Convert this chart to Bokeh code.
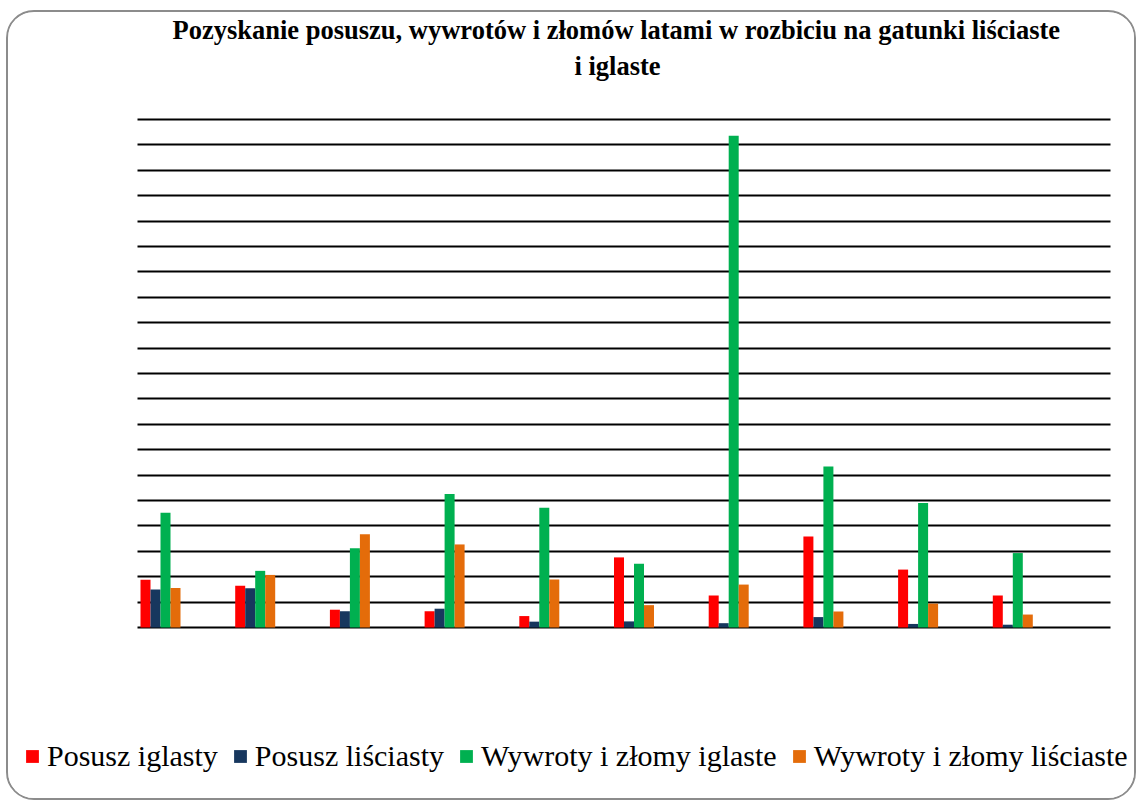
from bokeh.plotting import figure
from bokeh.models import Range1d, FixedTicker, Legend, LegendItem, Title, ColumnDataSource
from bokeh.transform import dodge
from bokeh.embed import file_html
from bokeh.resources import INLINE

# ---- data (values in gridline units) ----
lata = ["1", "2", "3", "4", "5", "6", "7", "8", "9", "10"]
posusz_iglasty = [1.88, 1.64, 0.70, 0.64, 0.45, 2.76, 1.26, 3.58, 2.28, 1.26]
posusz_lisciasty = [1.50, 1.55, 0.64, 0.74, 0.23, 0.24, 0.17, 0.41, 0.14, 0.11]
wywroty_iglaste = [4.52, 2.23, 3.12, 5.26, 4.71, 2.51, 19.36, 6.34, 4.90, 2.93]
wywroty_lisciaste = [1.56, 2.07, 3.67, 3.27, 1.89, 0.88, 1.69, 0.63, 0.94, 0.51]
series_names = ["Posusz iglasty", "Posusz liściasty", "Wywroty i złomy iglaste",
                "Wywroty i złomy liściaste"]
grid_ticks = list(range(0, 21))

colors = ["#FF0000", "#17375E", "#00B050", "#E46C0A"]
SERIF = "Liberation Serif"

src = ColumnDataSource(dict(
    x=list(range(len(lata))),
    s0=posusz_iglasty, s1=posusz_lisciasty, s2=wywroty_iglaste, s3=wywroty_lisciaste,
))

# layout geometry (page pixels)
ML, MT, BORDER = 6, 10, 2
X0, Y0 = ML + BORDER, MT + BORDER
W, H = 1130, 790
spacing_px = 94.7
group0_px = 160
grid_left_px, grid_right_px = 137, 1110
frame_top, mb_bottom = 85, 5
frame_bottom = Y0 + H - mb_bottom
base_y = 627
unit_px = 25.4

def px2x(px):
    return (px - group0_px) / spacing_px

p = figure(width=W, height=H, output_backend="svg", toolbar_location=None,
           x_range=Range1d(px2x(X0), px2x(X0 + W)),
           y_range=Range1d(-(frame_bottom - base_y) / unit_px, (base_y - frame_top) / unit_px),
           min_border_left=0, min_border_right=0,
           min_border_top=frame_top - Y0, min_border_bottom=mb_bottom)
p.margin = (MT, 0, 0, ML)

p.title.text = "Pozyskanie posuszu, wywrotów i złomów latami w rozbiciu na gatunki liściaste"
p.title.text_font = SERIF
p.title.text_font_size = "26.5px"
p.title.text_font_style = "bold"
p.title.align = "left"
p.title.offset = 164
p.title.standoff = 0
p.title.text_color = "#000000"
p.add_layout(Title(text="i iglaste", text_font=SERIF, text_font_size="26.5px",
                   text_font_style="bold", align="left", offset=566, standoff=9,
                   text_color="#000000"), "above")

p.xaxis.visible = False
p.yaxis.visible = False
p.xgrid.visible = False
p.ygrid.ticker = FixedTicker(ticks=grid_ticks)
p.ygrid.cross_bounds = (px2x(grid_left_px), px2x(grid_right_px))
p.ygrid.grid_line_color = "#000000"
p.ygrid.grid_line_width = 2
p.outline_line_color = None

bw = 10 / spacing_px
offsets = [-1.5 * bw, -0.5 * bw, 0.5 * bw, 1.5 * bw]
items = []
for i, col in enumerate(["s0", "s1", "s2", "s3"]):
    r = p.vbar(x=dodge("x", offsets[i], range=p.x_range), top=col, width=bw, bottom=0,
               source=src, fill_color=colors[i], line_color=None)
    items.append(LegendItem(label=series_names[i], renderers=[r]))

legend = Legend(items=items, orientation="horizontal", location=(24 - X0, 24),
                label_text_font=SERIF, label_text_font_size="30px",
                label_text_color="#000000", glyph_width=16, glyph_height=16,
                label_standoff=7, spacing=14, padding=0, margin=0,
                background_fill_alpha=0, border_line_color=None)
p.add_layout(legend, "center")

p.styles = {"border": f"{BORDER}px solid #8c8c8c", "border-radius": "28px",
            "overflow": "hidden"}

open("out.html", "w").write(file_html(p, INLINE))
